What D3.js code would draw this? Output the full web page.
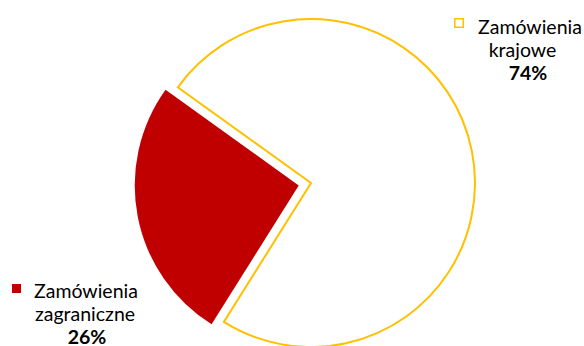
<!DOCTYPE html>
<html>
<head>
<meta charset="utf-8">
<script src="https://cdn.jsdelivr.net/npm/d3@7"></script>
<style>
  body { margin: 0; background: #fff; }
  svg { display: block; }
  text { font-family: Lato, "Open Sans", sans-serif; font-size: 19.5px; fill: #000; }
</style>
</head>
<body>
<div class="pie-chart"></div>
<script>
// data
var categories = ["Zamówienia krajowe", "Zamówienia zagraniczne"];
var values = [74, 26];
var labelLines = [["Zamówienia", "krajowe"], ["Zamówienia", "zagraniczne"]];

var width = 584,
  height = 346,
  radius = 164;

var cx = 311, cy = 183;

var svg = d3.select(".pie-chart")
  .append("svg")
  .attr("width", width)
  .attr("height", height);

var g = svg.append("g")
  .attr("transform", "translate(" + cx + "," + cy + ")");

var fill = d3.scaleOrdinal().domain(categories).range(["#ffffff", "#c00000"]);
var stroke = d3.scaleOrdinal().domain(categories).range(["#ffc000", "none"]);
var explode = d3.scaleOrdinal().domain(categories).range([0, 12.5]);

var start = -54.3 * Math.PI / 180;

var pie = d3.pie()
  .sort(null)
  .startAngle(start)
  .endAngle(start + 2 * Math.PI)
  .value(function (d) { return d.value; });

var arc = d3.arc()
  .innerRadius(0)
  .outerRadius(radius);

var data = categories.map(function (c, i) {
  return { label: c, value: values[i], lines: labelLines[i] };
});

var slices = pie(data);

g.selectAll("path.slice")
  .data(slices)
  .enter()
  .append("path")
  .attr("class", "slice")
  .attr("d", arc)
  .attr("transform", function (d) {
    var mid = (d.startAngle + d.endAngle) / 2;
    var off = explode(d.data.label);
    return "translate(" + (Math.sin(mid) * off) + "," + (-Math.cos(mid) * off) + ")";
  })
  .style("fill", function (d) { return fill(d.data.label); })
  .style("stroke", function (d) { return stroke(d.data.label); })
  .style("stroke-width", 2)
  .style("stroke-linejoin", "miter");

/* ------- LABELS -------*/
// label block placement (x of key, x centres of lines, first baseline)
var labelPos = [
  { key: [454, 18], centers: [530, 522.5, 528], y: 34 },
  { key: [12, 284], centers: [86, 85, 87], y: 298 }
];
var lineH = 23;

var labels = svg.selectAll("g.label")
  .data(slices)
  .enter()
  .append("g")
  .attr("class", "label");

labels.append("rect")
  .attr("x", function (d, i) { return labelPos[i].key[0] + (i === 0 ? 0.75 : 0); })
  .attr("y", function (d, i) { return labelPos[i].key[1] + (i === 0 ? 0.75 : 0); })
  .attr("width", function (d, i) { return i === 0 ? 8.5 : 9; })
  .attr("height", function (d, i) { return i === 0 ? 8.5 : 9; })
  .style("fill", function (d) { return fill(d.data.label); })
  .style("stroke", function (d) { return stroke(d.data.label); })
  .style("stroke-width", 1.5);

labels.each(function (d, i) {
  var el = d3.select(this);
  var p = labelPos[i];
  var pct = Math.round(d.data.value / d3.sum(values) * 100) + "%";
  var lines = d.data.lines.concat([pct]);
  lines.forEach(function (t, j) {
    el.append("text")
      .attr("x", p.centers[j])
      .attr("y", p.y + j * lineH)
      .attr("text-anchor", "middle")
      .style("font-weight", j === 2 ? "bold" : "normal")
      .text(t);
  });
});
</script>
</body>
</html>
